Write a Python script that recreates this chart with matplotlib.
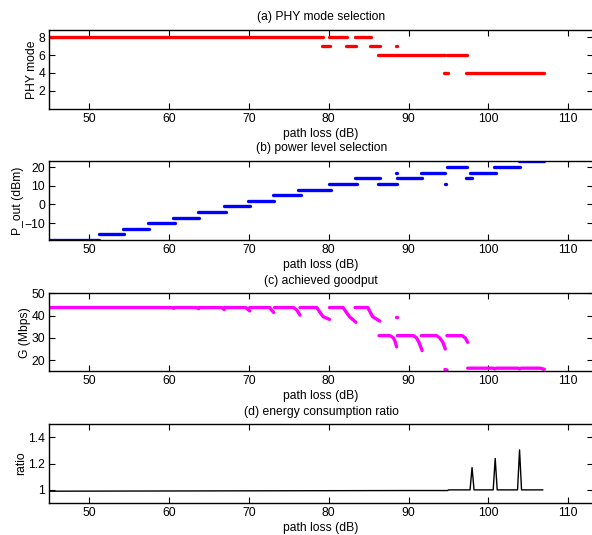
import numpy as np
import matplotlib
matplotlib.use("Agg")
import matplotlib.pyplot as plt

plt.rcParams["font.family"] = ["Liberation Sans", "DejaVu Sans"]
plt.rcParams["font.size"] = 8.7
plt.rcParams["axes.titlesize"] = 8.7

# (a) PHY mode, one entry per run of points: start, end, mode
mode_start = [45.0, 79.2, 80.05, 82.2, 83.25, 85.2, 88.4, 86.2, 94.4, 94.8, 97.2]
mode_end   = [79.3, 80.2, 82.3, 83.4, 85.3, 86.4, 88.6, 94.6, 94.9, 97.3, 106.9]
mode_val   = [8, 7, 8, 7, 8, 7, 7, 6, 4, 6, 4]

# (b) output power level (dBm)
pow_start = [45.0, 51.2, 54.2, 57.3, 60.5, 63.6, 66.9, 69.9, 73.0, 76.2, 80.0,
             83.25, 86.2, 88.4, 88.5, 91.5, 94.5, 94.8, 97.2, 97.75, 100.75, 103.8]
pow_end   = [51.25, 54.4, 57.5, 60.7, 63.8, 67.1, 70.2, 73.2, 76.5, 80.3, 83.5,
             86.4, 88.6, 88.6, 91.7, 94.6, 94.7, 97.3, 98.0, 101.0, 104.0, 106.9]
pow_val   = [-19, -16, -13, -10, -7, -4, -1, 2, 5, 8, 11,
             14, 11, 17, 14, 17, 11, 20, 14, 17, 20, 23]

# (c) goodput (Mbps), one polyline per power level run
gp_x = [
    [45.0, 60.3, 60.6],
    [60.6, 63.4, 63.7],
    [63.7, 66.6, 66.9],
    [66.9, 69.6, 70.1],
    [70.1, 72.6, 73.1],
    [73.2, 75.6, 76.0, 76.4],
    [76.4, 78.5, 78.9, 79.3, 80.1],
    [80.1, 81.8, 82.2, 82.6, 83.4],
    [83.3, 84.9, 85.2, 85.5, 86.4],
    [88.45, 88.6],
    [86.3, 87.7, 88.1, 88.3, 88.5],
    [88.6, 90.6, 91.0, 91.3, 91.7],
    [91.6, 93.5, 93.9, 94.3, 94.6],
    [94.8, 96.7, 97.1, 97.4],
    [94.55, 94.8],
    [97.4, 100.6, 100.8, 101.0, 103.7, 103.9, 104.1, 106.5, 107.0],
]
gp_y = [
    [43.6, 43.6, 43.3],
    [43.6, 43.6, 43.1],
    [43.6, 43.6, 42.7],
    [43.6, 43.6, 42.1],
    [43.6, 43.6, 41.4],
    [43.6, 43.6, 42.5, 40.2],
    [43.6, 43.6, 41.5, 39.5, 38.3],
    [43.6, 43.6, 41.5, 39.5, 37.0],
    [43.6, 43.6, 41.5, 39.5, 37.5],
    [39.3, 39.3],
    [31.0, 31.0, 30.0, 28.5, 26.0],
    [31.0, 31.0, 30.0, 28.0, 24.3],
    [31.0, 31.0, 30.0, 28.0, 25.0],
    [31.0, 31.0, 30.0, 28.0],
    [15.8, 15.6],
    [16.4, 16.4, 16.1, 16.4, 16.4, 16.1, 16.4, 16.4, 15.9],
]

# (d) energy consumption ratio
ratio_x = [45.0, 90.0, 94.9, 95.0, 97.7, 97.95, 98.2, 100.6, 100.85, 101.1,
           103.65, 103.9, 104.15, 106.8]
ratio_y = [0.99, 0.995, 0.995, 1.0, 1.0, 1.17, 1.0, 1.0, 1.24, 1.0,
           1.0, 1.305, 1.0, 1.0]

W, H = 592, 535
fig = plt.figure(figsize=(W / 100, H / 100), dpi=100)

left_px, right_px = 49.3, 593.0
tops = [30.0, 160.7, 293.3, 424.3]
bots = [108.7, 240.0, 371.3, 503.0]
axes = []
for t, b in zip(tops, bots):
    ax = fig.add_axes([left_px / W, 1 - b / H, (right_px - left_px) / W, (b - t) / H])
    ax.set_xlim(45, 113.1)
    ax.set_xticks([50, 60, 70, 80, 90, 100, 110])
    ax.tick_params(direction="in", top=True, right=True, length=4, width=0.8, pad=3)
    for s in ax.spines.values():
        s.set_linewidth(1.0)
    ax.set_xlabel("path loss (dB)", labelpad=2)
    axes.append(ax)

lw = 2.4

ax = axes[0]
for s, e, v in zip(mode_start, mode_end, mode_val):
    ax.plot([s, e], [v, v], color="#ff0000", lw=lw, solid_capstyle="round")
ax.set_ylim(0, 8.8)
ax.set_yticks([2, 4, 6, 8])
ax.set_ylabel("PHY mode", labelpad=0.5)
ax.set_title("(a) PHY mode selection", pad=7)

ax = axes[1]
for s, e, v in zip(pow_start, pow_end, pow_val):
    ax.plot([s, e], [v, v], color="#0000ff", lw=lw, solid_capstyle="round")
ax.set_ylim(-19, 23.4)
ax.set_yticks([-10, 0, 10, 20])
ax.set_ylabel("P_out (dBm)", labelpad=0.5)
ax.set_title("(b) power level selection", pad=7)

ax = axes[2]
for xs, ys in zip(gp_x, gp_y):
    ax.plot(xs, ys, color="#ff00ff", lw=lw, solid_capstyle="round", solid_joinstyle="round")
ax.set_ylim(15, 50)
ax.set_yticks([20, 30, 40, 50])
ax.set_ylabel("G (Mbps)", labelpad=0.5)
ax.set_title("(c) achieved goodput", pad=7)

ax = axes[3]
ax.plot(ratio_x, ratio_y, color="black", lw=1.0)
ax.set_ylim(0.9, 1.5)
ax.set_yticks([1, 1.2, 1.4])
ax.set_yticklabels(["1", "1.2", "1.4"])
ax.set_ylabel("ratio", labelpad=0.5)
ax.set_title("(d) energy consumption ratio", pad=7)

fig.savefig("out.png", dpi=100)
